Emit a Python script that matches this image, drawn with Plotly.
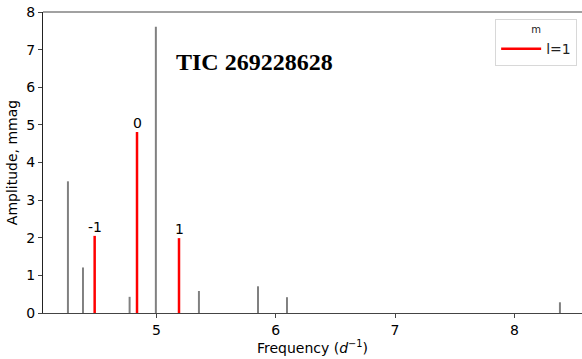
import plotly.graph_objects as go

# Gray peaks (other frequencies)
other_freq = [4.258, 4.384, 4.775, 4.995, 5.356, 5.851, 6.094, 8.382]
other_amp = [3.50, 1.21, 0.43, 7.61, 0.585, 0.71, 0.42, 0.285]

# l=1 multiplet
l1_freq = [4.482, 4.837, 5.189]
l1_amp = [2.05, 4.81, 1.99]
l1_m = ["-1", "0", "1"]

title_text = "TIC 269228628"
x_ticks = [5, 6, 7, 8]
y_ticks = [0, 1, 2, 3, 4, 5, 6, 7, 8]


def stems(xs, ys):
    X, Y = [], []
    for x, y in zip(xs, ys):
        X += [x, x, None]
        Y += [0, y, None]
    return X, Y


fig = go.Figure()
gx, gy = stems(other_freq, other_amp)
fig.add_trace(go.Scatter(x=gx, y=gy, mode="lines", line=dict(color="#808080", width=2),
                         showlegend=False, hoverinfo="skip"))
rx, ry = stems(l1_freq, l1_amp)
fig.add_trace(go.Scatter(x=rx, y=ry, mode="lines", line=dict(color="#ff0000", width=2.5),
                         name="l=1", showlegend=True))

for f, a, m in zip(l1_freq, l1_amp, l1_m):
    fig.add_annotation(x=f, y=a, text=m, showarrow=False, yanchor="bottom", xanchor="center",
                       yshift=-1, font=dict(family="DejaVu Sans", size=14, color="black"))

fig.add_annotation(x=0.393, y=0.834, xref="paper", yref="paper", text="<b>" + title_text + "</b>",
                   showarrow=False, xanchor="center", yanchor="middle",
                   font=dict(family="Liberation Serif", size=24, color="black"))

fig.update_layout(
    width=582, height=359,
    margin=dict(l=43, r=0, t=12, b=46),
    plot_bgcolor="white", paper_bgcolor="white",
    font=dict(family="DejaVu Sans", size=13, color="black"),
    legend=dict(
        x=0.991, y=0.976, xanchor="right", yanchor="top",
        bordercolor="#d8d8d8", borderwidth=1, bgcolor="white",
        title=dict(text="m", side="top center", font=dict(size=10)),
        font=dict(size=14, color="#222"),
        itemwidth=40,
    ),
    xaxis=dict(
        range=[4.049, 8.567], tickvals=x_ticks, ticks="outside", ticklen=4, tickcolor="#444",
        showgrid=False, zeroline=False, showline=True, linecolor="#444", linewidth=1.2,
        mirror=False, tickfont=dict(size=14),
        title=dict(text="Frequency (<i>d</i><sup>−1</sup>)", font=dict(size=14), standoff=5),
    ),
    yaxis=dict(
        range=[0, 8], tickvals=y_ticks, ticks="outside", ticklen=4, tickcolor="#444",
        showgrid=False, zeroline=False, showline=True, linecolor="#222", linewidth=1.2,
        tickfont=dict(size=14),
        title=dict(text="Amplitude, mmag", font=dict(size=14), standoff=5),
    ),
    shapes=[dict(type="line", xref="paper", yref="paper", x0=0, x1=1, y0=1, y1=1,
                 line=dict(color="#444", width=1.2))],
)

fig.write_html("out.html")
